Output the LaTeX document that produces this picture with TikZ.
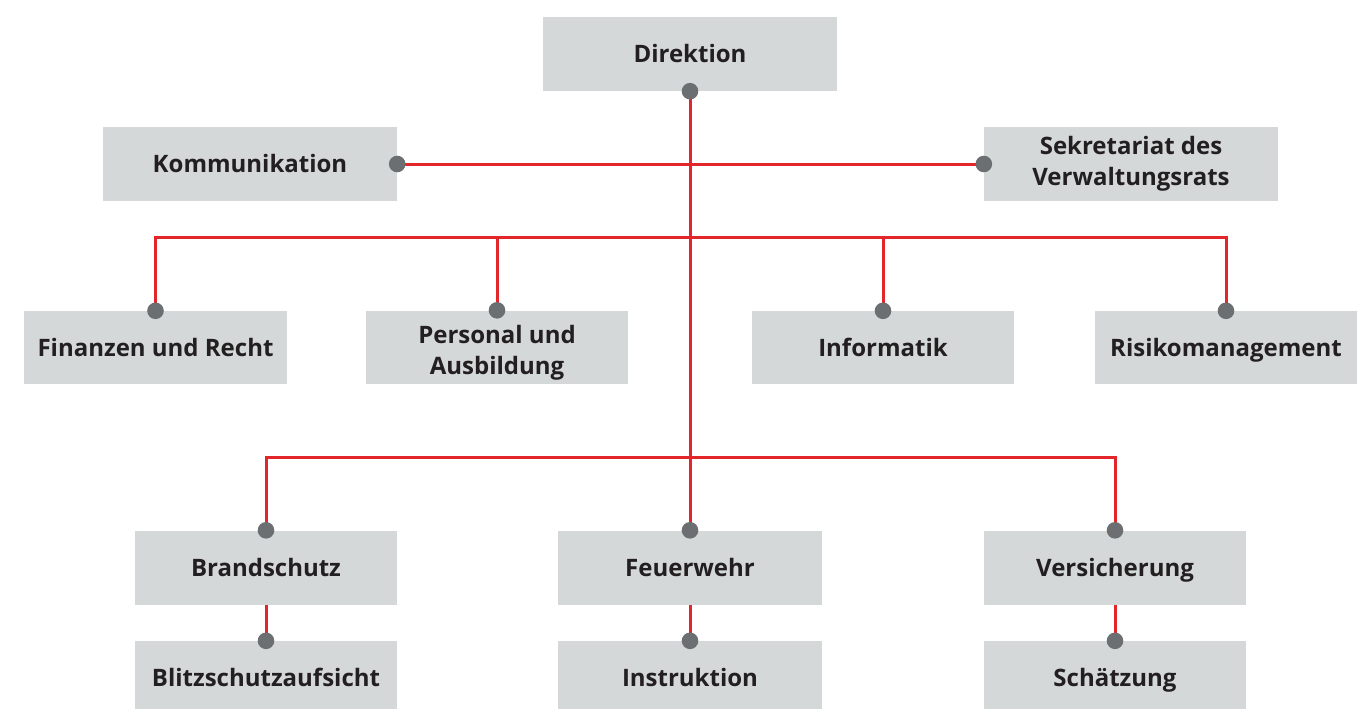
\documentclass[tikz,border=0pt]{standalone}
\usepackage{fontspec}
\setmainfont{Open Sans}
\definecolor{boxgray}{HTML}{D5D8D9}
\definecolor{linkred}{HTML}{E3262A}
\definecolor{dotgray}{HTML}{6C6F71}
\definecolor{txt}{HTML}{231F20}
\begin{document}
\begin{tikzpicture}[x=1pt,y=-1pt,
  box/.style={fill=boxgray, draw=none, inner sep=0pt, minimum height=73pt, align=center,
    font=\bfseries\fontsize{24}{31}\selectfont, text=txt},
  sl/.style={text height=17pt, text depth=0pt},
  wbox/.style={box, minimum width=294pt, minimum height=74pt},
  nbox/.style={box, minimum width=262pt},
  link/.style={draw=linkred, line width=3pt},
  dotc/.style={fill=dotgray}]
\useasboundingbox (0,0) rectangle (1366,709);
% boxes
\node[wbox, sl] (dir) at (690,54) {Direktion};
\node[wbox, sl] (kom) at (250,164) {Kommunikation};
\node[wbox] (sek) at (1131,164) {Sekretariat des\\Verwaltungsrats};
\node[nbox, sl, minimum width=263pt] (fin) at (155.5,347.5) {Finanzen und Recht};
\node[nbox, text height=54pt, text depth=0pt] (pers) at (497,347) {Personal und\\Ausbildung};
\node[nbox, sl] (inf) at (883,347.5) {Informatik};
\node[nbox, sl] (risk) at (1226,347.5) {Risikomanagement};
\node[nbox, sl, minimum height=74pt] (brand) at (266,567.5) {Brandschutz};
\node[nbox, sl, minimum height=74pt, minimum width=264pt] (feu) at (690,567.5) {Feuerwehr};
\node[nbox, sl, minimum height=74pt] (vers) at (1115,567.5) {Versicherung};
\node[nbox, minimum height=68pt, text height=23pt, text depth=0pt] (blitz) at (266,675) {Blitzschutzaufsicht};
\node[nbox, minimum height=68pt, text height=23pt, text depth=0pt, minimum width=264pt] (instr) at (690,675) {Instruktion};
\node[nbox, minimum height=68pt, text height=23pt, text depth=0pt] (schae) at (1115,675) {Schätzung};
% bus coordinates
\coordinate (b1) at (690,237);
\coordinate (b2) at (690,457);
% connectors
\draw[link] (dir.south) -- (feu.north);
\draw[link] (kom.east) -- (sek.west);
\draw[link] (fin.north) |- (b1);
\draw[link] (pers.north) |- (b1);
\draw[link] (inf.north) |- (b1);
\draw[link] (risk.north) |- (b1);
\draw[link] (brand.north) |- (b2);
\draw[link] (vers.north) |- (b2);
\draw[link] (brand.south) -- (blitz.north);
\draw[link] (feu.south) -- (instr.north);
\draw[link] (vers.south) -- (schae.north);
% dots
\foreach \p in {dir.south,kom.east,sek.west,fin.north,pers.north,inf.north,risk.north,
  brand.north,feu.north,vers.north,blitz.north,instr.north,schae.north}
  \fill[dotc] (\p) circle (8.3pt);
\end{tikzpicture}
\end{document}
